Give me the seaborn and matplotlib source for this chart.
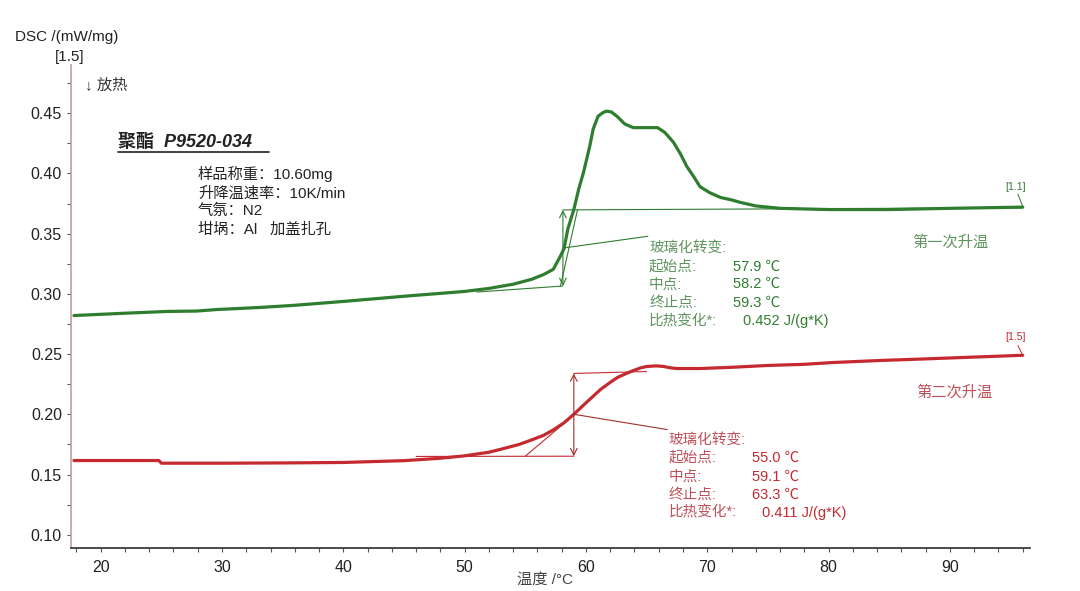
import matplotlib
matplotlib.use("Agg")
import matplotlib.pyplot as plt
import numpy as np
import pandas as pd
import seaborn as sns
from matplotlib.ticker import MultipleLocator

# first heating (green)
temp_1 = [17.8, 20, 22.2, 25.5, 27.9, 29.6, 31.3, 33.1, 36, 40, 45, 50, 52, 54, 55.5, 56.5,
          57.3, 57.9, 58.2, 58.5, 59.0, 59.4, 59.8, 60.3, 60.6, 61.0, 61.4, 61.7, 62.1, 62.6,
          63.2, 63.9, 64.8, 65.9, 66.5, 67.2, 67.8, 68.3, 68.9, 69.4, 70.2, 71.1, 72.0, 72.7,
          74, 76, 80, 85, 90, 96]
dsc_1 = [0.282, 0.283, 0.284, 0.2854, 0.2857, 0.287, 0.2878, 0.2887, 0.2905, 0.2937, 0.298,
         0.302, 0.3045, 0.308, 0.312, 0.316, 0.3203, 0.3314, 0.3378, 0.3536, 0.370, 0.3868,
         0.401, 0.422, 0.437, 0.4475, 0.4505, 0.4517, 0.451, 0.447, 0.441, 0.438, 0.438, 0.438,
         0.434, 0.426, 0.416, 0.406, 0.397, 0.389, 0.384, 0.380, 0.378, 0.376, 0.373, 0.371,
         0.370, 0.370, 0.371, 0.372]

# second heating (red)
temp_2 = [17.8, 24.8, 25.0, 30, 35, 40, 45, 48, 50, 52, 53, 54.5, 55.6, 56.5, 57.3, 58.2, 59.0,
          60.0, 61.2, 62.0, 62.6, 63.3, 63.9, 64.5, 65.0, 65.8, 66.4, 67.0, 67.5, 69.4, 72,
          74.9, 78, 80.4, 84.3, 88, 92, 96]
dsc_2 = [0.1616, 0.1616, 0.1594, 0.1594, 0.1596, 0.160, 0.1615, 0.1635, 0.1655, 0.1685, 0.171,
         0.175, 0.179, 0.1825, 0.187, 0.193, 0.200, 0.2095, 0.2206, 0.2265, 0.2306, 0.2338,
         0.2363, 0.2385, 0.2397, 0.2402, 0.2397, 0.2385, 0.238, 0.238, 0.239, 0.2405, 0.2415,
         0.243, 0.2447, 0.246, 0.2475, 0.249]

# glass transition results
tg_labels = ["玻璃化转变:", "起始点:", "中点:", "终止点:", "比热变化*:"]
tg_values_1 = ["57.9 ℃", "58.2 ℃", "59.3 ℃", "0.452 J/(g*K)"]
tg_values_2 = ["55.0 ℃", "59.1 ℃", "63.3 ℃", "0.411 J/(g*K)"]

info_lines = ["样品称重：10.60mg", "升降温速率：10K/min", "气氛：N2", "坩埚：Al   加盖扎孔"]

GREEN = "#2f7d2f"
GREEN_TXT = "#5f945f"
RED = "#c42a2f"
RED_TXT = "#c0505a"

sns.set_theme(style="white")
plt.rcParams["font.family"] = ["Liberation Sans", "Noto Sans CJK SC", "DejaVu Sans"]

fig = plt.figure(figsize=(10.8, 5.91), dpi=100)
ax = fig.add_axes([0.0657, 0.0728, 0.888, 0.8172])

df1 = pd.DataFrame({"T": temp_1, "DSC": dsc_1})
df2 = pd.DataFrame({"T": temp_2, "DSC": dsc_2})
sns.lineplot(data=df1, x="T", y="DSC", ax=ax, color=GREEN, lw=2.3, sort=False, estimator=None)
sns.lineplot(data=df2, x="T", y="DSC", ax=ax, color=RED, lw=2.3, sort=False, estimator=None)

ax.set_xlim(17.55, 96.6)
ax.set_ylim(0.089, 0.49)
ax.xaxis.set_major_locator(MultipleLocator(10))
ax.xaxis.set_minor_locator(MultipleLocator(2))
ax.yaxis.set_major_locator(MultipleLocator(0.05))
ax.yaxis.set_minor_locator(MultipleLocator(0.025))
ax.yaxis.set_major_formatter(matplotlib.ticker.FormatStrFormatter("%.2f"))
ax.tick_params(axis="both", which="both", direction="out", length=3, width=0.8,
               colors="#555555", labelcolor="#222222", labelsize=11.5, bottom=True, left=True)
ax.tick_params(axis="x", pad=6)
for s in ["top", "right"]:
    ax.spines[s].set_visible(False)
ax.spines["left"].set_color("#c9a0a0")
ax.spines["bottom"].set_color("#333333")
ax.grid(False)
ax.set_ylabel("")
ax.set_xlabel("温度 /°C", fontsize=11, color="#444444")
ax.xaxis.set_label_coords(0.494, -0.052)

# evaluation lines, first heating
lw_a = 0.8
ax.plot([51.0, 58.1], [0.3015, 0.3065], color=GREEN, lw=lw_a)
ax.plot([58.1, 96.0], [0.3697, 0.3715], color=GREEN, lw=lw_a)
ax.plot([57.9, 59.3], [0.3065, 0.3697], color=GREEN, lw=lw_a)
ax.annotate("", xy=(58.1, 0.3697), xytext=(58.1, 0.3065),
            arrowprops=dict(arrowstyle="<->", color=GREEN, lw=lw_a, shrinkA=0, shrinkB=0))
ax.plot([58.1, 65.1], [0.338, 0.3478], color=GREEN, lw=lw_a)

# evaluation lines, second heating
ax.plot([46.0, 59.0], [0.1650, 0.1652], color=RED, lw=lw_a)
ax.plot([59.0, 65.0], [0.2339, 0.2355], color=RED, lw=lw_a)
ax.plot([55.0, 58.5], [0.1652, 0.195], color=RED, lw=lw_a)
ax.annotate("", xy=(59.0, 0.2339), xytext=(59.0, 0.1652),
            arrowprops=dict(arrowstyle="<->", color="#a03030", lw=lw_a, shrinkA=0, shrinkB=0))
ax.plot([59.0, 66.7], [0.200, 0.1873], color="#a03030", lw=lw_a)

# result text blocks
ys1 = [0.3386, 0.3228, 0.3079, 0.2929, 0.2771]
ys2 = [0.179, 0.164, 0.1483, 0.1333, 0.1183]
for i, lab in enumerate(tg_labels):
    ax.text(65.2, ys1[i], lab, color=GREEN_TXT, fontsize=10.5, va="center")
    ax.text(66.8, ys2[i], lab, color=RED_TXT, fontsize=10.5, va="center")
for i, val in enumerate(tg_values_1):
    ax.text(72.95 if i == 3 else 72.1, ys1[i + 1], val, color=GREEN, fontsize=10.5, va="center")
for i, val in enumerate(tg_values_2):
    ax.text(74.5 if i == 3 else 73.7, ys2[i + 1], val, color=RED, fontsize=10.5, va="center")

# curve end markers and names
ax.text(95.4, 0.3885, "[1.1]", color=GREEN, fontsize=7.5, ha="center", va="center")
ax.plot([95.6, 96.0], [0.3827, 0.3727], color=GREEN, lw=0.7)
ax.text(95.4, 0.2638, "[1.5]", color=RED, fontsize=7.5, ha="center", va="center")
ax.plot([95.6, 96.0], [0.2571, 0.249], color=RED, lw=0.7)
ax.text(90.0, 0.3428, "第一次升温", color=GREEN_TXT, fontsize=11, ha="center", va="center")
ax.text(90.4, 0.218, "第二次升温", color=RED_TXT, fontsize=11, ha="center", va="center")

# header texts
fig.text(0.0139, 0.937, "DSC /(mW/mg)", fontsize=11, color="#222222", va="center")
fig.text(0.0648, 0.9036, "[1.5]", fontsize=11, color="#222222", va="center", ha="center")
ax.text(0.0146, 0.9565, "↓ 放热", transform=ax.transAxes, fontsize=11, color="#333333",
        va="center")
ax.text(0.049, 0.8406, "聚酯  P9520-034", transform=ax.transAxes, fontsize=13,
        fontweight="bold", fontstyle="italic", color="#222222", va="center")
ax.plot([0.049, 0.2065], [0.8199, 0.8199], transform=ax.transAxes, color="#222222", lw=1.2)
info_y = [0.7743, 0.7329, 0.6977, 0.6584]
for y, line in zip(info_y, info_lines):
    ax.text(0.1324, y, line, transform=ax.transAxes, fontsize=11, color="#222222", va="center")

fig.savefig("out.png", dpi=100)
